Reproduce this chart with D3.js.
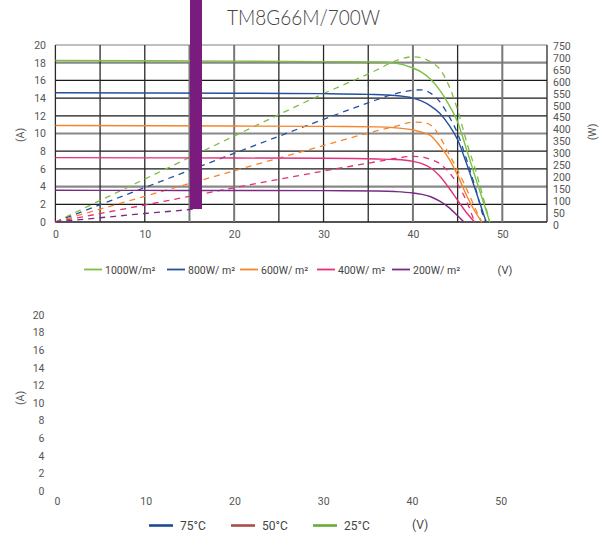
<!DOCTYPE html>
<html>
<head>
<meta charset="utf-8">
<script src="https://cdn.jsdelivr.net/npm/d3@7"></script>
<style>
  body { margin: 0; background: #fff; }
  svg { display: block; }
  text { font-family: Roboto, "Noto Sans", sans-serif; }
</style>
</head>
<body>
<svg id="chart" width="614" height="534"></svg>
<script>
// ---- data ----
const chartTitle = "TM8G66M/700W";
const voltTicks = [0, 10, 20, 30, 40, 50];
const gridVolts = [0, 5, 10, 15, 20, 25, 30, 35, 40, 45, 50, 55];
const currentTicks = [0, 2, 4, 6, 8, 10, 12, 14, 16, 18, 20];
const powerTicks = [0, 50, 100, 150, 200, 250, 300, 350, 400, 450, 500, 550, 600, 650, 700, 750];

const irradianceLabels = ["1000W/m\u00b2", "800W/ m\u00b2", "600W/ m\u00b2", "400W/ m\u00b2", "200W/ m\u00b2"];
const irradianceColors = ["#7cbf43", "#23509f", "#f5842a", "#e2307a", "#7a2a86"];

// 1000 W/m2
const v1000 = [0, 10, 20, 30, 36, 38, 40, 41, 42, 43, 44, 45, 46, 47, 48, 48.6];
const i1000 = [18.25, 18.22, 18.18, 18.12, 18.08, 17.95, 17.4, 16.9, 16.1, 14.9, 13.3, 11.3, 8.2, 5.0, 1.9, 0];
const p1000 = [0, 182, 364, 544, 645, 682, 700, 695, 678, 648, 580, 475, 340, 220, 85, 0];
// 800 W/m2
const v800 = [0, 10, 20, 30, 35, 38, 40, 41, 42, 43, 44, 45, 46, 47, 48, 48.2];
const i800 = [14.6, 14.58, 14.55, 14.5, 14.42, 14.3, 14.0, 13.65, 13.1, 12.3, 11.0, 9.3, 6.6, 3.6, 0.6, 0];
const p800 = [0, 146, 291, 435, 505, 543, 558, 560, 545, 510, 450, 375, 265, 144, 13, 0];
// 600 W/m2
const v600 = [0, 10, 20, 30, 36, 38, 40, 41, 42, 43, 44, 45, 46, 47, 47.7];
const i600 = [10.9, 10.88, 10.85, 10.8, 10.75, 10.65, 10.4, 10.15, 9.75, 8.6, 7.2, 5.3, 3.0, 1.1, 0];
const p600 = [0, 109, 217, 324, 387, 405, 423, 422, 410, 362, 290, 220, 140, 55, 0];
// 400 W/m2
const v400 = [0, 10, 20, 30, 36, 38, 40, 41, 42, 43, 44, 45, 46, 46.9];
const i400 = [7.27, 7.25, 7.23, 7.2, 7.12, 7.06, 6.85, 6.6, 6.1, 5.2, 3.9, 2.45, 1.05, 0];
const p400 = [0, 72, 145, 216, 256, 269, 278, 276, 265, 248, 212, 160, 88, 0];
// 200 W/m2
const v200 = [0, 10, 20, 30, 36, 38, 40, 41, 42, 43, 44, 45, 45.7];
const i200 = [3.58, 3.57, 3.56, 3.54, 3.5, 3.44, 3.28, 3.12, 2.85, 2.35, 1.65, 0.7, 0];
const v200p = [0, 5, 10, 15, 16];   // power curve only visible left of the bar
const p200 = [0, 18, 36, 53, 57];

const tempLabels = ["75\u00b0C", "50\u00b0C", "25\u00b0C"];
const tempColors = ["#1f4b93", "#a84f4a", "#6aab35"];

const ivSeries = [
  { v: v1000, y: i1000 }, { v: v800, y: i800 }, { v: v600, y: i600 },
  { v: v400, y: i400 }, { v: v200, y: i200 }
];
const pvSeries = [
  { v: v1000, y: p1000 }, { v: v800, y: p800 }, { v: v600, y: p600 },
  { v: v400, y: p400 }, { v: v200p, y: p200 }
];

const svg = d3.select("#chart");
const txt = "#555";

// title
svg.append("text")
  .attr("x", 227).attr("y", 25)
  .attr("textLength", 153).attr("lengthAdjust", "spacingAndGlyphs")
  .style("font-family", "Lato, 'Open Sans', sans-serif")
  .style("font-weight", 300)
  .style("font-size", "21px").attr("fill", "#444")
  .text(chartTitle);

// ---------- top chart ----------
const x = d3.scaleLinear().domain([0, 55]).range([55.4, 547]);
const y = d3.scaleLinear().domain([0, 20]).range([222, 45]);
const yP = d3.scaleLinear().domain([0, 750]).range([222, 45]);
const yPLab = d3.scaleLinear().domain([0, 750]).range([225, 46]);

const grid = svg.append("g");
grid.selectAll("line.h").data(currentTicks).join("line")
  .attr("x1", x(0)).attr("x2", x(55))
  .attr("y1", d => y(d)).attr("y2", d => y(d))
  .attr("stroke", d => d === 20 ? "#aaa" : ([18, 10, 4].includes(d) ? "#888" : "#1a1a1a"))
  .attr("stroke-width", d => [18, 10, 4].includes(d) ? 2.2 : 1.3);
grid.selectAll("line.v").data(gridVolts).join("line")
  .attr("y1", y(0)).attr("y2", y(20))
  .attr("x1", d => x(d)).attr("x2", d => x(d))
  .attr("stroke", d => [15, 20, 40, 50].includes(d) ? "#777" : "#2a2a2a")
  .attr("stroke-width", d => [15, 20, 40, 50].includes(d) ? 2 : 1.3);

function path(s, ys) {
  const pts = s.v.map((v, i) => [v, s.y[i]]);
  return d3.line().x(d => x(d[0])).y(d => ys(d[1])).curve(d3.curveMonotoneX)(pts);
}

// dashed power curves
svg.append("g").selectAll("path").data(pvSeries).join("path")
  .attr("d", d => path(d, yP))
  .attr("fill", "none")
  .attr("stroke", (d, i) => irradianceColors[i])
  .attr("stroke-width", 1.3)
  .attr("stroke-dasharray", "6,5");

// solid current curves
svg.append("g").selectAll("path").data(ivSeries).join("path")
  .attr("d", d => path(d, y))
  .attr("fill", "none")
  .attr("stroke", (d, i) => irradianceColors[i])
  .attr("stroke-width", 1.4);

// decorative bar
svg.append("rect").attr("x", 190).attr("y", 0).attr("width", 12).attr("height", 209)
  .attr("fill", "#7a1c7d");

// axes labels
const axL = svg.append("g").attr("transform", "translate(46,0)")
  .call(d3.axisLeft(y).tickValues(currentTicks).tickSize(0).tickPadding(0));
const axR = svg.append("g").attr("transform", "translate(553,0)")
  .call(d3.axisRight(yPLab).tickValues(powerTicks).tickSize(0).tickPadding(0));
const axB = svg.append("g").attr("transform", "translate(0,231)")
  .call(d3.axisBottom(x).tickValues(voltTicks).tickSize(0).tickPadding(0));
[axL, axR, axB].forEach(a => {
  a.select(".domain").remove();
  a.selectAll("text").style("font-size", "10.5px").attr("fill", txt).style("font-family", "Roboto, sans-serif");
});

svg.append("text").attr("transform", "translate(24,135) rotate(-90)")
  .attr("text-anchor", "middle").style("font-size", "10.5px").attr("fill", txt).text("(A)");
svg.append("text").attr("transform", "translate(596,132) rotate(-90)")
  .attr("text-anchor", "middle").style("font-size", "10.5px").attr("fill", txt).text("(W)");

// top legend
const legX = [84, 167, 240, 317, 392];
const leg = svg.append("g");
irradianceLabels.forEach((lab, i) => {
  leg.append("line").attr("x1", legX[i]).attr("x2", legX[i] + 18)
    .attr("y1", 269.5).attr("y2", 269.5)
    .attr("stroke", irradianceColors[i]).attr("stroke-width", 1.8);
  leg.append("text").attr("x", legX[i] + 21).attr("y", 273.5)
    .style("font-size", "10.5px").attr("fill", "#444").text(lab);
});
leg.append("text").attr("x", 505).attr("y", 274).attr("text-anchor", "middle")
  .style("font-size", "11px").attr("fill", "#444").text("(V)");

// ---------- bottom chart (empty frame, labels only) ----------
const x2 = d3.scaleLinear().domain([0, 55]).range([57, 545]);
const y2 = d3.scaleLinear().domain([0, 20]).range([491, 315]);

const axL2 = svg.append("g").attr("transform", "translate(44.5,0)")
  .call(d3.axisLeft(y2).tickValues(currentTicks).tickSize(0).tickPadding(0));
const axB2 = svg.append("g").attr("transform", "translate(0,498)")
  .call(d3.axisBottom(x2).tickValues(voltTicks).tickSize(0).tickPadding(0));
[axL2, axB2].forEach(a => {
  a.select(".domain").remove();
  a.selectAll("text").style("font-size", "10.5px").attr("fill", txt).style("font-family", "Roboto, sans-serif");
});
svg.append("text").attr("transform", "translate(24,398) rotate(-90)")
  .attr("text-anchor", "middle").style("font-size", "10.5px").attr("fill", txt).text("(A)");

const legX2 = [149, 231, 313];
tempLabels.forEach((lab, i) => {
  svg.append("line").attr("x1", legX2[i]).attr("x2", legX2[i] + 24)
    .attr("y1", 525.5).attr("y2", 525.5)
    .attr("stroke", tempColors[i]).attr("stroke-width", 2.6);
  svg.append("text").attr("x", legX2[i] + 31).attr("y", 530)
    .style("font-size", "12px").attr("fill", "#444").text(lab);
});
svg.append("text").attr("x", 420).attr("y", 529).attr("text-anchor", "middle")
  .style("font-size", "12px").attr("fill", "#444").text("(V)");
</script>
</body>
</html>
